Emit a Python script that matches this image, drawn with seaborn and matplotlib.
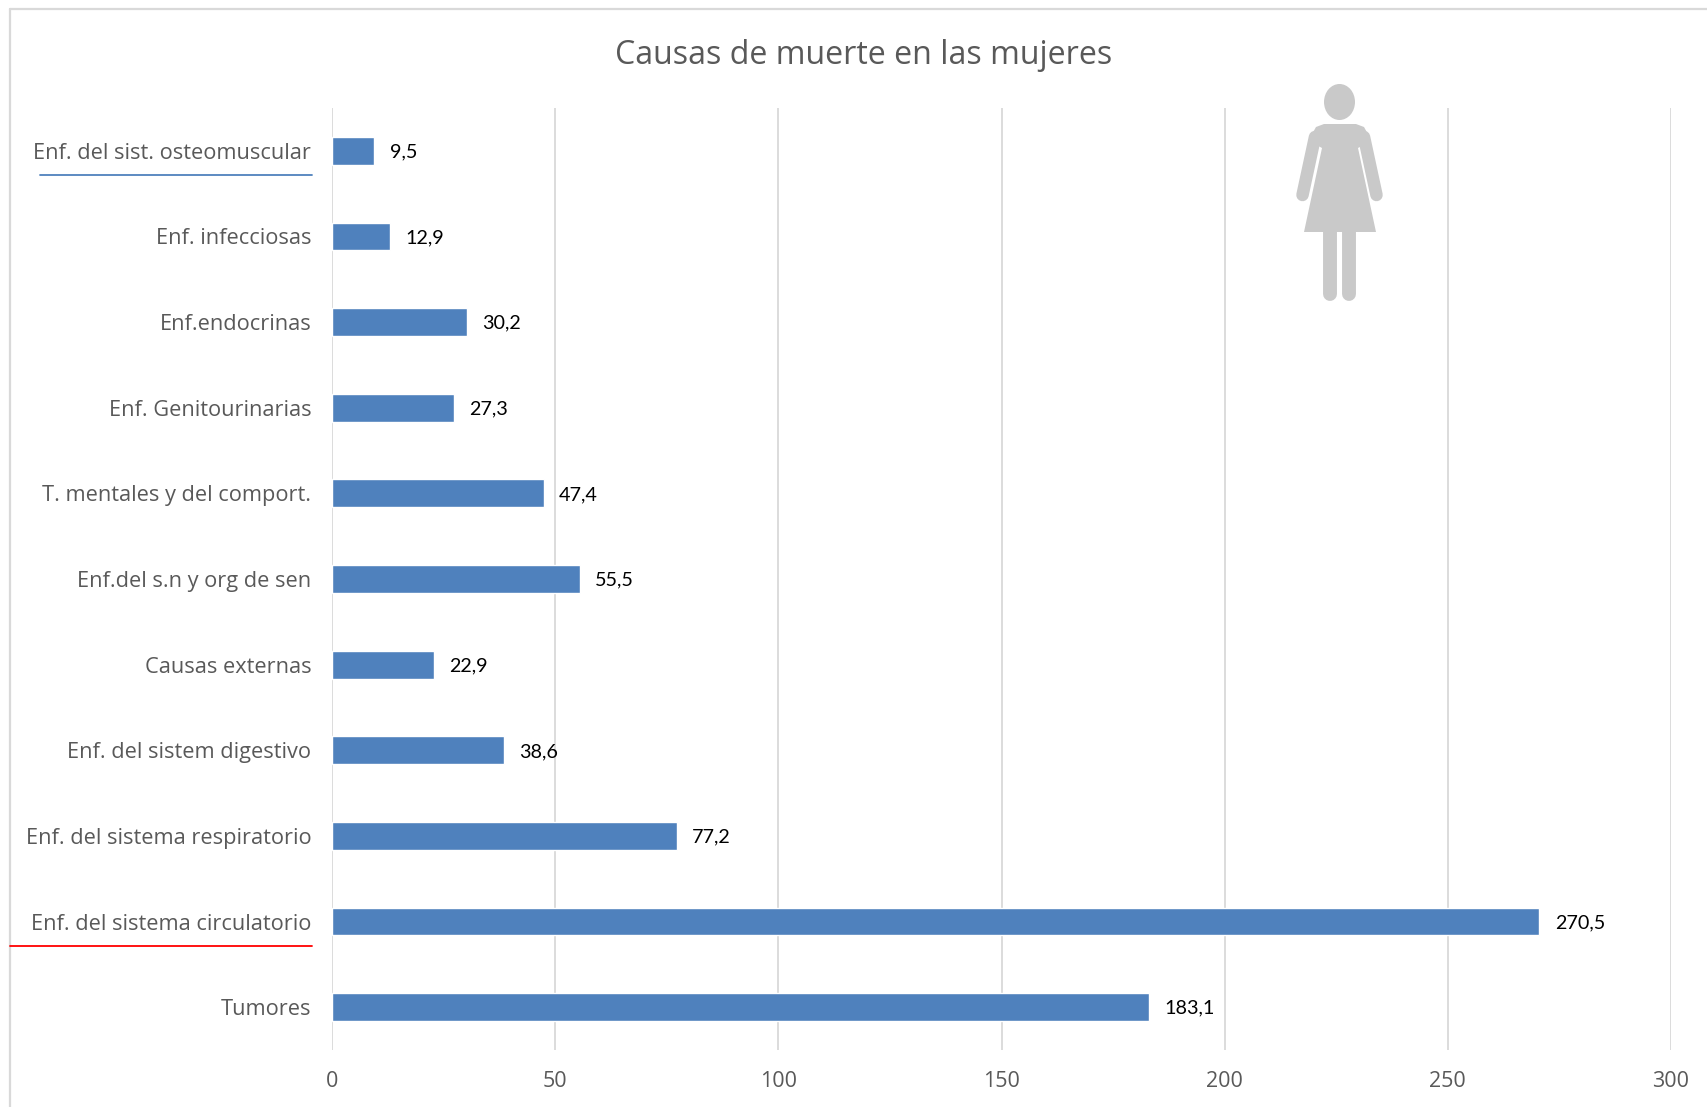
import matplotlib
matplotlib.use("Agg")
import matplotlib.pyplot as plt
import seaborn as sns
import pandas as pd
from matplotlib.patches import Ellipse, Polygon
from matplotlib.lines import Line2D

categories = ["Enf. del sist. osteomuscular", "Enf. infecciosas", "Enf.endocrinas",
              "Enf. Genitourinarias", "T. mentales y del comport.", "Enf.del s.n y org de sen",
              "Causas externas", "Enf. del sistem digestivo", "Enf. del sistema respiratorio",
              "Enf. del sistema circulatorio", "Tumores"]
values = [9.5, 12.9, 30.2, 27.3, 47.4, 55.5, 22.9, 38.6, 77.2, 270.5, 183.1]
x_ticks = [0, 50, 100, 150, 200, 250, 300]
title = "Causas de muerte en las mujeres"

W, H = 1707, 1107
sns.set_theme(style="white")
plt.rcParams["font.family"] = ["Open Sans", "DejaVu Sans"]
fig = plt.figure(figsize=(W / 100, H / 100), dpi=100, facecolor="white")

ax = fig.add_axes([332 / W, 1 - 1050 / H, (1671 - 332) / W, (1050 - 108) / H])
df = pd.DataFrame({"cat": categories, "val": values})
sns.barplot(data=df, y="cat", x="val", order=categories, orient="h", color="#4f81bd",
            saturation=1, width=0.325, ax=ax, zorder=3)
ax.set_xlim(0, 300)
ax.set_ylim(len(categories) - 0.5, -0.5)
ax.set_xticks(x_ticks)
ax.set_xlabel("")
ax.set_ylabel("")
ax.grid(axis="x", color="#d9d9d9", lw=1.3, zorder=0)
ax.grid(axis="y", visible=False)
for s in ax.spines.values():
    s.set_visible(False)
ax.tick_params(axis="y", length=0, pad=15, labelsize=15.7, labelcolor="#595959")
ax.tick_params(axis="x", length=0, pad=15, labelsize=15.5, labelcolor="#595959")
for i, v in enumerate(values):
    ax.annotate(f"{v:.1f}".replace(".", ","), (v, i), xytext=(11, -0.8), textcoords="offset points",
                ha="left", va="center", fontsize=14.2, color="black", family=["Lato", "DejaVu Sans"])

fig.text(863.5 / W, 1 - 56 / H, title, ha="center", va="center", fontsize=23.1, color="#595959")

# overlay in picture pixels: frame, underlines, pictogram
ov = fig.add_axes([0, 0, 1, 1], facecolor="none")
ov.set_xlim(0, W)
ov.set_ylim(H, 0)
ov.axis("off")
ov.add_line(Line2D([10, 10], [9, H], color="#d9d9d9", lw=1.6))
ov.add_line(Line2D([10, W], [9, 9], color="#d9d9d9", lw=1.6))
ov.add_line(Line2D([10, 312], [946, 946], color="#ff0000", lw=1.3))
ov.add_line(Line2D([40, 312], [175, 175], color="#4f81bd", lw=1.3))

grey = "#c9c9c9"
ov.add_patch(Ellipse((1339.5, 102), 31, 36, color=grey, lw=0))
dress = [(1324, 124), (1356, 124), (1364, 127), (1369, 136), (1369, 142), (1358, 148), (1376, 232),
         (1304, 232), (1322, 148), (1311, 142), (1311, 136), (1316, 127)]
ov.add_patch(Polygon(dress, closed=True, color=grey, lw=0))
limb = dict(color=grey, solid_capstyle="round")
ov.add_line(Line2D([1315, 1302.5], [137, 195], lw=9, **limb))
ov.add_line(Line2D([1364, 1376.5], [137, 195], lw=9, **limb))
ov.add_line(Line2D([1330, 1330], [232, 294], lw=10, **limb))
ov.add_line(Line2D([1349, 1349], [232, 294], lw=10, **limb))

fig.savefig("out.png", dpi=100)
